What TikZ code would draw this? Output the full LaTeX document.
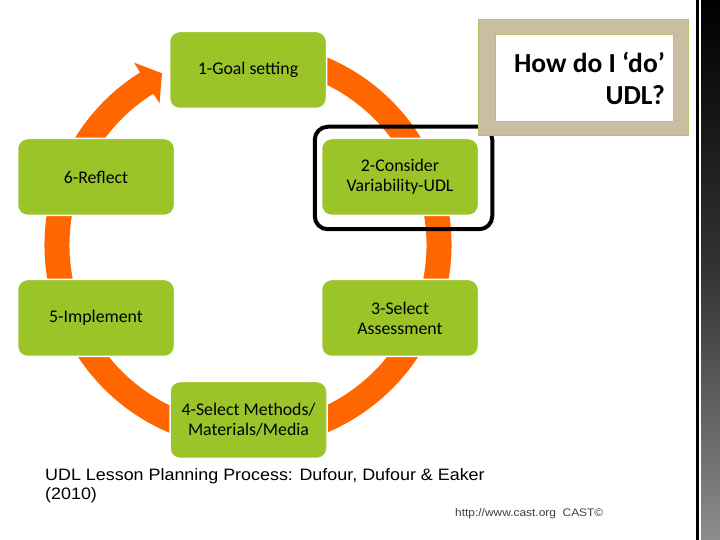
\documentclass[tikz,border=0pt]{standalone}
\usepackage{fontspec}
\setmainfont{Carlito}
\newfontfamily\arialfont[FakeStretch=1.085]{Liberation Sans}
\usetikzlibrary{calc}
\definecolor{stepgreen}{RGB}{154,196,40}
\definecolor{ringorange}{RGB}{255,102,0}
\definecolor{tanfill}{RGB}{201,190,162}
\definecolor{oliveline}{RGB}{190,190,110}
\definecolor{urlgray}{RGB}{64,64,64}
\tikzset{
  stepbox/.style={draw=white, line width=1.5pt, fill=stepgreen, rounded corners=10pt,
    minimum width=157pt, minimum height=77pt, inner sep=0pt, align=center,
    font=\fontsize{17.8}{20}\selectfont, text=black},
}
\begin{document}
\begin{tikzpicture}[x=1pt,y=1pt]
\useasboundingbox (0,0) rectangle (720,540);
\fill[white] (0,0) rectangle (720,540);
% right decorative stripe
\fill[black] (696,0) rectangle (698.5,540);
\shade[top color=black, bottom color=black!45, middle color=black!80] (701,0) rectangle (720,540);
% ring
\coordinate (c) at (248,295);
\draw[ringorange, line width=25pt] ($(c)+(80:191)$) arc[start angle=80, end angle=-239, radius=191];
\fill[ringorange] ($(c)+(122:167)$) -- ($(c)+(116.6:192)$) -- ($(c)+(122:215)$) -- cycle;
% steps
\node[stepbox] (n1) at (248,470) {1-Goal setting};
\node[stepbox] (n2) at (400,363) {2-Consider\\Variability-UDL};
\node[stepbox] (n3) at (400,222) {3-Select\\Assessment};
\node[stepbox] (n4) at (248.5,120) {4-Select Methods/\\Materials/Media};
\node[stepbox] (n5) at (96,222) {5-Implement};
\node[stepbox] (n6) at (96,363) {6-Reflect};
% highlight frame
\draw[black, line width=4pt, rounded corners=13pt]
  ($(n2.south west)+(-6,-13)$) rectangle ($(n2.north east)+(13,11)$);
% title box
\draw[oliveline, line width=0.8pt, fill=tanfill] (478.5,405) rectangle (688,521);
\draw[oliveline, line width=0.8pt, fill=white] (495,419) rectangle (673,506);
\node[anchor=north east, inner sep=0pt, align=right,
  font=\fontsize{27.5}{32}\selectfont\bfseries] (title) at (665,488)
  {How do I ‘do’\\UDL?};
% caption
\node[anchor=base west, inner sep=0pt, align=left,
  font=\arialfont\fontsize{16.5}{19}\selectfont] (cap) at (45,40)
  {UDL Lesson Planning Process: Dufour, Dufour \& Eaker\\(2010)};
\node[anchor=base west, inner sep=0pt, text=urlgray,
  font=\arialfont\fontsize{11}{13}\selectfont] (url) at (455,23)
  {http://www.cast.org\ \ CAST©};
\end{tikzpicture}
\end{document}
